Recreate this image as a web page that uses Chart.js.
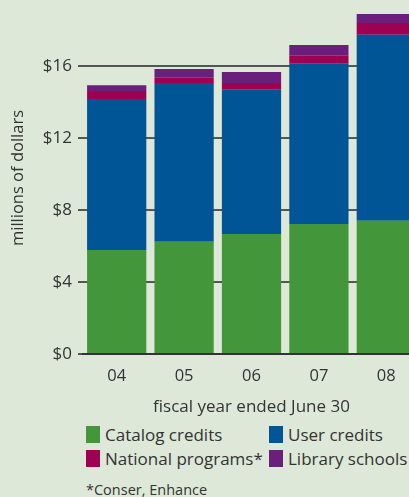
<!DOCTYPE html>
<html>
<head>
<meta charset="utf-8">
<script src="https://cdn.jsdelivr.net/npm/chart.js@4"></script>
<style>
    html, body { margin: 0; padding: 0; overflow: hidden; }
    body { width: 409px; height: 497px; background: #dde8d8; position: relative; font-family: 'Open Sans', sans-serif; color: #333; }
    #wrap { position: absolute; left: 0; top: 0; width: 420px; height: 420px; }
    .key { position: absolute; font-size: 17px; line-height: 17px; white-space: nowrap; }
    .key span { display: inline-block; width: 14px; height: 17px; vertical-align: top; margin-right: 5px; }
    #note { position: absolute; left: 86px; top: 481px; font-size: 14.5px; line-height: 17px; }
</style>
</head>
<body>
<div id="wrap"><canvas id="chart" width="420" height="420"></canvas></div>
<div class="key" style="left:86px;top:426px"><span style="background:#43963a"></span>Catalog credits</div>
<div class="key" style="left:269px;top:426px"><span style="background:#005596"></span>User credits</div>
<div class="key" style="left:86px;top:450px"><span style="background:#9e0052"></span>National programs*</div>
<div class="key" style="left:269px;top:450px"><span style="background:#6b1f7c"></span>Library schools</div>
<div id="note">*Conser, Enhance</div>
<script>
// fiscal years (ended June 30)
const years = ['04', '05', '06', '07', '08'];

// millions of dollars
const catalogCredits = [5.78, 6.24, 6.67, 7.22, 7.41];
const userCredits = [8.39, 8.82, 8.02, 8.91, 10.33];
const nationalPrograms = [0.44, 0.29, 0.37, 0.44, 0.65];
const librarySchools = [0.33, 0.48, 0.61, 0.60, 0.50];

const yTicks = [0, 4, 8, 12, 16];

const ctx = document.getElementById('chart').getContext('2d');
new Chart(ctx, {
    type: 'bar',
    data: {
        labels: years,
        datasets: [
            { label: 'Catalog credits', data: catalogCredits, backgroundColor: '#43963a' },
            { label: 'User credits', data: userCredits, backgroundColor: '#005596' },
            { label: 'National programs*', data: nationalPrograms, backgroundColor: '#9e0052' },
            { label: 'Library schools', data: librarySchools, backgroundColor: '#6b1f7c' },
        ],
    },
    options: {
        responsive: false,
        animation: false,
        layout: { padding: { top: 2, left: 0, right: 0, bottom: 0 } },
        datasets: {
            bar: { barPercentage: 0.879, categoryPercentage: 1, borderWidth: 0 },
        },
        plugins: {
            legend: { display: false },
            tooltip: { enabled: false },
        },
        scales: {
            x: {
                stacked: true,
                grid: { display: false },
                border: { display: true, color: '#333', width: 2 },
                ticks: { color: '#333', font: { family: 'Open Sans', size: 16.5 }, padding: 4 },
                title: {
                    display: true,
                    text: 'fiscal year ended June 30',
                    color: '#333',
                    font: { family: 'Open Sans', size: 17 },
                    padding: { top: 0, bottom: 3 },
                },
                afterFit: (scale) => { scale.height = 66; },
            },
            y: {
                stacked: true,
                min: 0,
                max: 19.56,
                afterBuildTicks: (scale) => {
                    scale.ticks = yTicks.map((v) => ({ value: v }));
                },
                grid: { color: '#555', lineWidth: 2, tickLength: 5, z: -1 },
                border: { display: false },
                ticks: {
                    color: '#333',
                    font: { family: 'Open Sans', size: 17 },
                    padding: 6,
                    callback: (v) => '$' + v,
                },
                title: {
                    display: true,
                    text: 'millions of dollars',
                    color: '#333',
                    font: { family: 'Open Sans', size: 16.5 },
                    padding: { top: 8, bottom: 0 },
                },
                afterFit: (scale) => {
                    scale.width = 83;
                    scale.paddingTop = 0;
                    scale.paddingBottom = 0;
                },
            },
        },
    },
});
</script>
</body>
</html>
